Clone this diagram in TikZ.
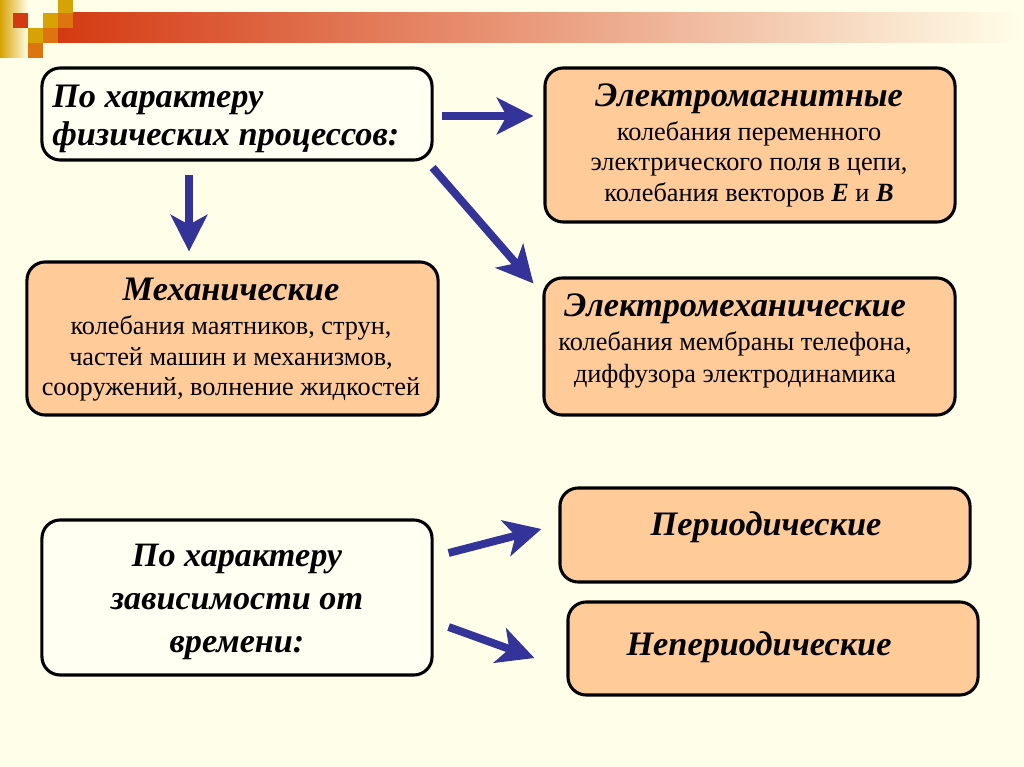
\documentclass[tikz,border=0pt]{standalone}
\usepackage{fontspec}
\setmainfont{Liberation Serif}
\usetikzlibrary{arrows.meta,calc}
\definecolor{osbg}{HTML}{FFFEE9}
\definecolor{osbox}{HTML}{FFFFF2}
\definecolor{ospeachfill}{HTML}{FFCC99}
\definecolor{osblue}{HTML}{333399}
\definecolor{osred}{HTML}{D43A12}
\definecolor{osgold}{HTML}{D6A204}
\definecolor{osorange}{HTML}{DE7410}
\tikzset{
  osframe/.style={draw=black, line width=2.2pt, rounded corners=13pt, inner sep=0pt},
  osplain/.style={osframe, fill=osbox},
  ospeach/.style={osframe, fill=ospeachfill},
  osbody/.style={font=\fontsize{18.7}{21.7}\selectfont, align=center, inner sep=0pt},
  osheadtext/.style={font=\fontsize{24.4}{27}\selectfont\bfseries\itshape, align=center, inner sep=0pt},
  osarrow/.style={draw=osblue, line width=5.6pt, -{Stealth[length=26pt, width=26pt, inset=7pt]}},
}
\newcommand{\oshead}[1]{{\fontsize{24.4}{27}\selectfont\bfseries\itshape #1}}

\begin{document}
\begin{tikzpicture}[x=0.025cm, y=-0.025cm]
\useasboundingbox (0,0) rectangle (1024,767);
\fill[osbg] (0,0) rectangle (1024,767);
\shade[left color=osgold, right color=osbg] (0,0) rectangle (28,58);
\shade[left color=osred, right color=osbg] (58,13) rectangle (1024,43);
\fill[osred] (13,13) rectangle (28,28);
\fill[osgold] (43,13) rectangle (58,28);
\fill[osorange] (58,13) rectangle (73,28);
\fill[osgold] (58,0) rectangle (73,13);
\fill[osgold] (28,28) rectangle (43,43);
\fill[osorange] (43,28) rectangle (58,43);
\fill[osorange] (28,43) rectangle (43,58);

\node[osplain, minimum width=9.75cm, minimum height=2.3cm] (phys) at (237,114) {};
\node[ospeach, minimum width=10.25cm, minimum height=3.85cm] (emag) at (750,145) {};
\node[ospeach, minimum width=10.275cm, minimum height=3.825cm] (mech) at (232.5,338.5) {};
\node[ospeach, minimum width=10.275cm, minimum height=3.425cm] (emech) at (749.5,346.5) {};
\node[osplain, minimum width=9.75cm, minimum height=3.875cm] (time) at (237,597.5) {};
\node[ospeach, minimum width=10.25cm, minimum height=2.35cm] (per) at (765,535) {};
\node[ospeach, minimum width=10.25cm, minimum height=2.325cm] (nonper) at (773,648.5) {};

\node[osheadtext, align=left, anchor=west] (physlbl) at (52,119) {По характеру\\физических процессов:};
\node[osbody] (emaglbl) at (749,145) {\oshead{Электромагнитные}\\[2.5pt]колебания переменного\\электрического поля в цепи,\\колебания векторов \textbf{\textit{E}} и \textbf{\textit{B}}};
\node[osbody] (mechlbl) at (231,340) {\oshead{Механические}\\[2.5pt]колебания маятников, струн,\\частей машин и механизмов,\\сооружений, волнение жидкостей};
\node[osbody] (emechlbl) at (735,341) {\oshead{Электромеханические}\\[2.5pt]колебания мембраны телефона,\\[1.5pt]диффузора электродинамика};
\node[osheadtext, font=\fontsize{24.3}{30.6}\selectfont\bfseries\itshape] (timelbl) at (237,602) {По характеру\\зависимости от\\времени:};
\node[osheadtext] (perlbl) at (766,527) {Периодические};
\node[osheadtext] (nonperlbl) at (759,647) {Непериодические};

\draw[osarrow] ($(phys.east)+(8,2)$) -- ($(emag.west)+(-10,-29)$);
\draw[osarrow] ($(phys.south)+(-48,13)$) -- ($(mech.north)+(-43.5,-9)$);
\draw[osarrow] ($(phys.south east)+(-1,6)$) -- ($(emech.north west)+(-9,7)$);
\draw[osarrow] ($(time.east)+(15,-44.5)$) -- ($(per.west)+(-17,-6)$);
\draw[osarrow] ($(time.east)+(15,29.5)$) -- ($(nonper.west)+(-32,9.5)$);
\end{tikzpicture}
\end{document}
